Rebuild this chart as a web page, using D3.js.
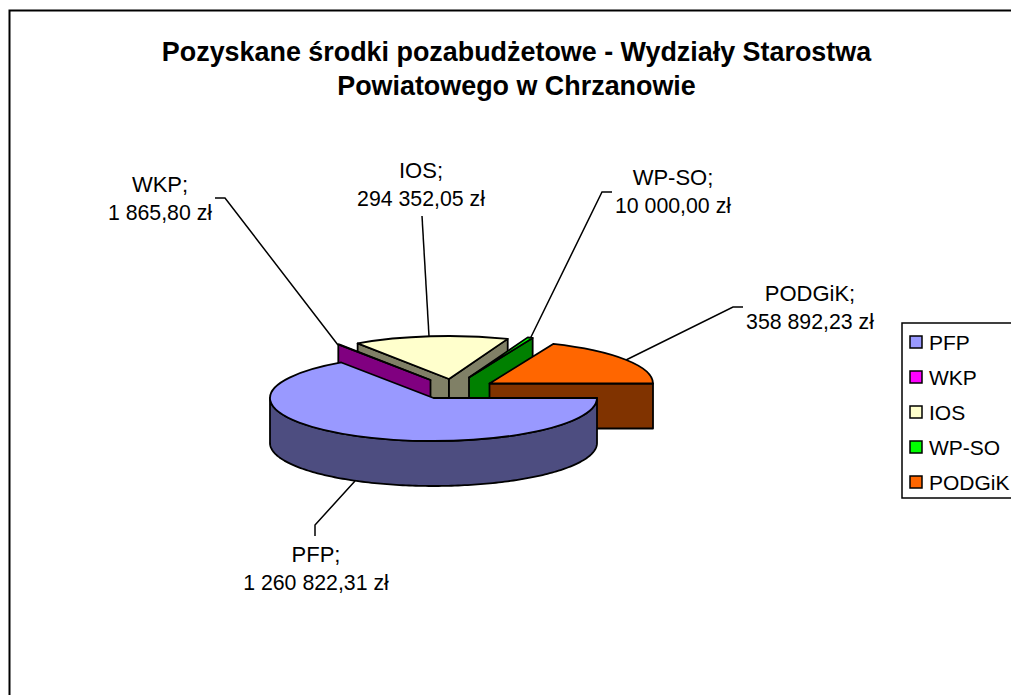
<!DOCTYPE html>
<html>
<head>
<meta charset="utf-8">
<script src="https://cdn.jsdelivr.net/npm/d3@7"></script>
<style>
  body { margin: 0; background: #fff; }
  svg { display: block; }
  text { font-family: "Liberation Sans", Arial, sans-serif; fill: #000; }
</style>
</head>
<body>
<script>
// data
const categories = ['PFP', 'WKP', 'IOS', 'WP-SO', 'PODGiK'];
const amounts = [1260822.31, 1865.80, 294352.05, 10000.00, 358892.23];
const colours = ['#9999ff', '#ff00ff', '#ffffcc', '#00ff00', '#ff6600'];
const titleLines = ['Pozyskane środki pozabudżetowe - Wydziały Starostwa', 'Powiatowego w Chrzanowie'];

// layout
const width = 1011;
const height = 695;
const cx = 433.5, cy = 398;   // centre of the unexploded pie
const rx = 163.5, ry = 43;    // ellipse of the top face
const depth = 45;

// how far each slice is pulled out of the pie
const explode = {
  'PFP': [0, 0],
  'WKP': [-3, -18],
  'IOS': [15.5, -19],
  'WP-SO': [35.5, -20.5],
  'PODGiK': [56, -14.5]
};
// back to front
const drawOrder = ['IOS', 'WP-SO', 'WKP', 'PODGiK', 'PFP'];

// label centre + first baseline, and the leader line running to the slice
const labelLayout = {
  'PFP': { x: 316, y: 562, leader: [[315, 536], [315, 525], [355, 481]] },
  'WKP': { x: 160, y: 192, leader: [[215, 198], [225, 198], [338, 345]] },
  'IOS': { x: 421, y: 178, leader: [[422, 216], [429, 336]] },
  'WP-SO': { x: 673, y: 185, leader: [[612, 192], [602, 192], [530, 339]] },
  'PODGiK': { x: 810, y: 301, leader: [[743, 307], [733, 307], [626, 360]] }
};

const zl = d3.formatLocale({
  decimal: ',', thousands: ' ', grouping: [3], currency: ['', ' zł']
}).format('$,.2f');

const svg = d3.select('body')
  .append('svg')
  .attr('width', width)
  .attr('height', height);

// chart frame, runs off the right and bottom of the picture
svg.append('rect')
  .attr('x', 9.5)
  .attr('y', 10.5)
  .attr('width', width + 50)
  .attr('height', height + 50)
  .attr('fill', '#fff')
  .attr('stroke', '#000')
  .attr('stroke-width', 2);

// title
svg.append('g')
  .selectAll('text')
  .data(titleLines)
  .join('text')
  .attr('x', 516.5)
  .attr('y', (d, i) => 61 + i * 34)
  .attr('text-anchor', 'middle')
  .attr('font-weight', 'bold')
  .attr('font-size', 26.9)
  .text(d => d);

// the first slice starts at 3 o'clock, like the original
const slices = d3.pie()
  .sort(null)
  .startAngle(Math.PI / 2)
  .endAngle(Math.PI / 2 + 2 * Math.PI)
  .value((d, i) => amounts[i])(categories);

slices.forEach((s, i) => {
  s.name = categories[i];
  s.colour = colours[i];
  s.side = d3.interpolateRgb(colours[i], '#000')(0.5);
  s.shift = explode[s.name];
  s.x = cx + s.shift[0];
  s.y = cy + s.shift[1];
});

// leaders go under the pie
const leaderLine = d3.line();
svg.append('g')
  .selectAll('path')
  .data(slices)
  .join('path')
  .attr('d', d => leaderLine(labelLayout[d.name].leader))
  .attr('fill', 'none')
  .attr('stroke', '#000')
  .attr('stroke-width', 1.5);

const rim = (s, a, dy = 0) => [
  s.x + rx * Math.sin(a),
  s.y - ry * Math.cos(a) + dy
];

const surface = d3.arc().innerRadius(0).outerRadius(rx);

const pieGroup = svg.append('g')
  .attr('stroke', '#000')
  .attr('stroke-width', 1.8)
  .attr('stroke-linejoin', 'round');

drawOrder.forEach(name => {
  const s = slices.find(d => d.name == name);
  const g = pieGroup.append('g');

  // flat cut faces, only the ones turned towards the viewer
  const cuts = [];
  if (-Math.sin(s.startAngle) > 1e-6) cuts.push(s.startAngle);
  if (Math.sin(s.endAngle) > 1e-6) cuts.push(s.endAngle);
  cuts.forEach(a => {
    g.append('path')
      .attr('d', leaderLine([
        [s.x, s.y], rim(s, a), rim(s, a, depth), [s.x, s.y + depth]
      ]) + 'Z')
      .attr('fill', s.side);
  });

  // round outer wall, front half of the ellipse only
  const from = Math.max(s.startAngle, Math.PI / 2);
  const to = Math.min(s.endAngle, 3 * Math.PI / 2);
  if (to > from) {
    const steps = d3.range(from, to, 0.02).concat(to);
    const pts = steps.map(a => rim(s, a))
      .concat(steps.slice().reverse().map(a => rim(s, a, depth)));
    g.append('path')
      .attr('d', leaderLine(pts) + 'Z')
      .attr('fill', s.side);
  }

  // top face, circle squashed into the ellipse
  g.append('path')
    .attr('transform', `translate(${s.x},${s.y}) scale(1,${ry / rx})`)
    .attr('d', surface({ startAngle: s.startAngle, endAngle: s.endAngle }))
    .attr('vector-effect', 'non-scaling-stroke')
    .attr('fill', s.colour);
});

// data labels
const labels = svg.append('g')
  .selectAll('text')
  .data(slices)
  .join('text')
  .attr('text-anchor', 'middle');

labels.append('tspan')
  .attr('x', d => labelLayout[d.name].x)
  .attr('y', d => labelLayout[d.name].y)
  .attr('font-size', 22)
  .text(d => d.name + ';');

labels.append('tspan')
  .attr('x', d => labelLayout[d.name].x)
  .attr('y', d => labelLayout[d.name].y + 28)
  .attr('font-size', 21.3)
  .text((d, i) => zl(amounts[i]));

// legend box runs off the right edge, the names still fit inside the picture
const legendY = d3.scalePoint()
  .domain(categories)
  .range([342, 482]);

const legend = svg.append('g');

legend.append('rect')
  .attr('x', 902)
  .attr('y', 323)
  .attr('width', 150)
  .attr('height', 175)
  .attr('fill', '#fff')
  .attr('stroke', '#000')
  .attr('stroke-width', 1.5);

const rows = legend.selectAll('g')
  .data(categories)
  .join('g')
  .attr('transform', d => `translate(0,${legendY(d)})`);

rows.append('rect')
  .attr('x', 910)
  .attr('y', -6)
  .attr('width', 12)
  .attr('height', 12)
  .attr('fill', (d, i) => colours[i])
  .attr('stroke', '#000')
  .attr('stroke-width', 1.5);

rows.append('text')
  .attr('x', 929)
  .attr('y', 7.5)
  .attr('font-size', 21)
  .text(d => d);
</script>
</body>
</html>
